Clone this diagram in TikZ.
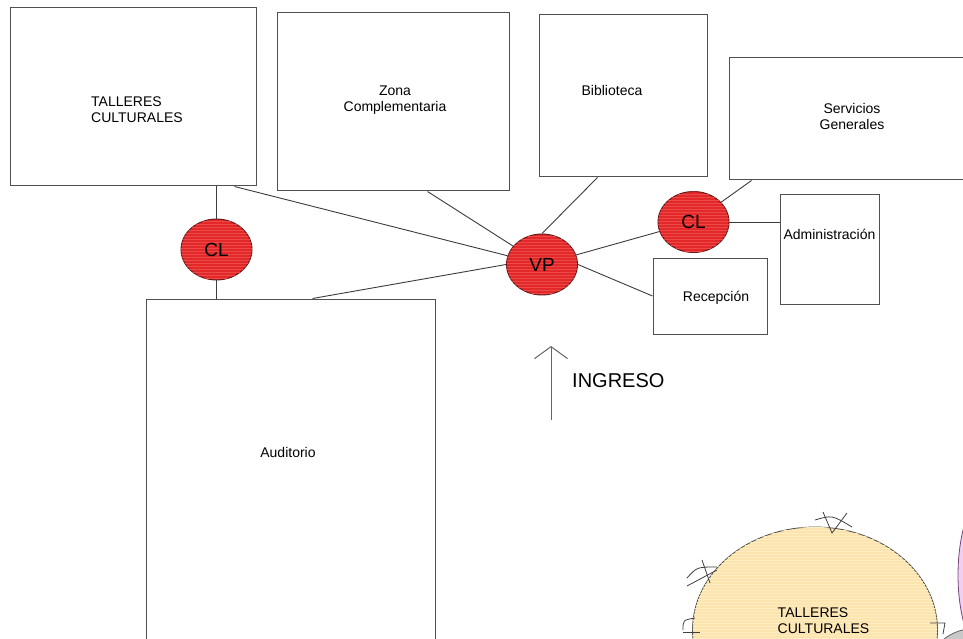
\documentclass[tikz,border=0pt]{standalone}
\usepackage{fontspec}
\setmainfont{Liberation Sans}
\usetikzlibrary{shapes,arrows.meta,patterns}

\definecolor{wallgray}{RGB}{80,80,80}
\definecolor{linkgray}{RGB}{60,60,60}
\definecolor{clred}{RGB}{226,40,40}
\definecolor{clstripe}{RGB}{236,72,72}
\definecolor{clborder}{RGB}{95,25,25}
\definecolor{tallfill}{RGB}{251,228,174}
\definecolor{tallstripe}{RGB}{255,236,194}
\definecolor{pinkfill}{RGB}{240,208,240}
\definecolor{pinkborder}{RGB}{120,70,120}
\definecolor{bubgray}{RGB}{200,200,200}

\begin{document}
\begin{tikzpicture}[x=1pt,y=-1pt,
  room/.style={draw=wallgray,line width=1pt,rectangle,inner sep=0pt},
  lbl/.style={font=\fontsize{14}{16}\selectfont,align=center,inner sep=0pt},
  hub/.style={ellipse,draw=clborder,line width=0.9pt,fill=clred,
    postaction={pattern=horizontal lines,pattern color=clstripe},
    minimum width=71pt,minimum height=61pt,inner sep=0pt,
    font=\fontsize{19}{21}\selectfont},
  conn/.style={draw=linkgray,line width=0.9pt},
  doormark/.style={draw=black!75,line width=0.8pt}]

\useasboundingbox (0,0) rectangle (963,639);
\fill[white] (0,0) rectangle (963,639);
\clip (0,0) rectangle (963,639);

% rooms
\node[room,minimum width=246pt,minimum height=178pt,
  label={[lbl,align=left,xshift=4pt,yshift=-13pt]center:{TALLERES\\CULTURALES}}] (tc) at (133,97) {};
\node[room,minimum width=232pt,minimum height=178pt,
  label={[lbl,xshift=2pt,yshift=2pt]center:{Zona\\Complementaria}}] (zc) at (393,102) {};
\node[room,minimum width=168pt,minimum height=162pt,
  label={[lbl,xshift=-11pt,yshift=6pt]center:Biblioteca}] (bib) at (623,96) {};
\node[room,minimum width=246pt,minimum height=122pt,
  label={[lbl,yshift=3pt]center:{Servicios\\Generales}}] (sg) at (852,119) {};
\node[room,minimum width=99pt,minimum height=109pt,
  label={[lbl,yshift=15.5pt]center:Administración}] (adm) at (829.5,249.5) {};
\node[room,minimum width=114pt,minimum height=76pt,
  label={[lbl,xshift=6pt,yshift=-2pt]center:Recepción}] (rec) at (710,296) {};
\node[room,minimum width=289pt,minimum height=401pt,
  label={[lbl,xshift=-2.5pt,yshift=47.5pt]center:Auditorio}] (aud) at (290.5,499.5) {};

% circulation hubs
\node[hub] (cl1) at (216.5,249.5) {CL};
\node[hub] (vp) at (542,264.5) {VP};
\node[hub] (cl2) at (693.5,222) {CL};

\draw[conn] (tc.south -| cl1) -- (cl1);
\draw[conn] (cl1) -- (cl1 |- aud.north);
\draw[conn] ([xshift=225pt]tc.south west) -- (vp);
\draw[conn] ([xshift=151pt]zc.south west) -- (vp);
\draw[conn] ([xshift=59pt]bib.south west) -- (vp.north);
\draw[conn] ([xshift=167pt]aud.north west) -- (vp.west);
\draw[conn] (vp) -- (cl2);
\draw[conn] (vp.east) -- (rec.west);
\draw[conn] ([xshift=23pt]sg.south west) -- (cl2);
\draw[conn] (cl2) -- (cl2 -| adm.west);

% entrance
\coordinate (inBot) at (551,420);
\coordinate (inTop) at (551,346);
\draw[draw=black!60,line width=1pt,-{Straight Barb[length=12pt,width=33pt]}] (inBot) -- (inTop);
\node[anchor=west,inner sep=0pt,font=\fontsize{20}{24}\selectfont] (ingreso) at (572,381) {INGRESO};

% second sheet, bottom right
\node[ellipse,draw=pinkborder,line width=0.8pt,fill=pinkfill,
  minimum width=104pt,minimum height=210pt] (pink) at (1010,575) {};
\node[ellipse,draw=black!60,line width=0.8pt,fill=bubgray,
  minimum width=92pt,minimum height=68pt] (gray) at (978,662) {};
\node[ellipse,draw=black!70,line width=0.8pt,fill=tallfill,
  postaction={pattern=horizontal lines,pattern color=tallstripe},
  minimum width=245pt,minimum height=206pt,
  label={[lbl,align=left,xshift=8.5pt,yshift=9pt]center:{TALLERES\\CULTURALES}}] (tc2) at (815,630) {};

\draw[doormark] (815,520) .. controls (832,515) .. (852,527);
\draw[doormark] (823,512) -- (832,533) -- (847,513);
\draw[doormark] (687,578) .. controls (697,567) .. (717,567);
\draw[doormark] (702,560) -- (710,583);
\draw[doormark] (687,586) -- (717,570);
\draw[doormark] (695,618) .. controls (683,620) .. (683,630);
\draw[doormark] (683,632) -- (700,632);
\draw[doormark] (930,623) -- (945,623) -- (943,634);
\end{tikzpicture}
\end{document}
